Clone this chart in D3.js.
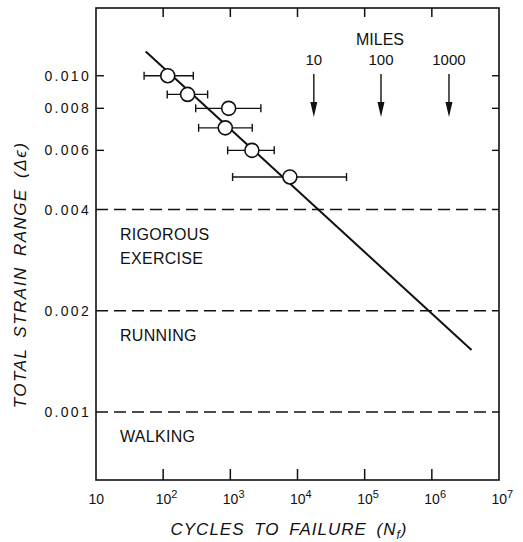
<!DOCTYPE html>
<html>
<head>
<meta charset="utf-8">
<script src="https://cdn.jsdelivr.net/npm/d3@7"></script>
<style>
  body { margin: 0; background: #fff; }
  svg text { font-family: "Liberation Sans", Arial, sans-serif; fill: #111; }
</style>
</head>
<body>
<svg id="chart" width="523" height="542"></svg>
<script>
// measured points (strain range vs cycles to failure, with scatter band)
const strain = [0.010, 0.0088, 0.008, 0.007, 0.006, 0.005]
const cycles = [117, 231, 944, 841, 2094, 7700]
const cyclesLow = [52, 115, 305, 337, 912, 1080]
const cyclesHigh = [281, 459, 2851, 2118, 4500, 53700]

// fitted line end points
const fitCycles = [55, 3.9e6]
const fitStrain = [0.0118, 0.00153]

// activity levels
const levels = [0.004, 0.002, 0.001]
const levelNames = [["RIGOROUS", "EXERCISE"], ["RUNNING"], ["WALKING"]]

// miles markers
const miles = ["10", "100", "1000"]
const milesCycles = [1.75e4, 1.75e5, 1.8e6]

const yTicks = [0.010, 0.008, 0.006, 0.004, 0.002, 0.001]
const yTickLabels = ["0.010", "0.008", "0.006", "0.004", "0.002", "0.001"]
const xTicks = [10, 1e2, 1e3, 1e4, 1e5, 1e6, 1e7]

const plotLeft = 96, plotRight = 499, plotTop = 8, plotBottom = 480

const x = d3.scaleLog().domain([10, 1e7]).range([plotLeft, plotRight])
const y = d3.scaleLog().domain([0.000628, 0.0159]).range([plotBottom, plotTop])

const svg = d3.select("#chart")

// frame
svg.append("rect")
    .attr("x", plotLeft).attr("y", plotTop)
    .attr("width", plotRight - plotLeft).attr("height", plotBottom - plotTop)
    .attr("fill", "none").attr("stroke", "#111").attr("stroke-width", 1.6)

// x ticks (inside, top and bottom)
const innerX = xTicks.slice(1, -1)
svg.selectAll(".xtb").data(innerX).join("line")
    .attr("x1", d => x(d)).attr("x2", d => x(d))
    .attr("y1", plotBottom).attr("y2", plotBottom - 11)
    .attr("stroke", "#111").attr("stroke-width", 1.5)
svg.selectAll(".xtt").data(innerX).join("line")
    .attr("x1", d => x(d)).attr("x2", d => x(d))
    .attr("y1", plotTop).attr("y2", plotTop + 9)
    .attr("stroke", "#111").attr("stroke-width", 1.5)

// x tick labels 10, 10^2 ...
const xl = svg.selectAll(".xl").data(xTicks).join("text")
    .attr("x", d => x(d) - 7.5)
    .attr("y", 504)
    .attr("font-size", 14)
xl.append("tspan").text("10")
xl.append("tspan")
    .attr("dy", -6).attr("font-size", 11)
    .text(d => { const p = Math.round(Math.log10(d)); return p > 1 ? p : "" })

// y ticks (inside, left and right) for the upper values
const tickOnly = yTicks.slice(0, 3)
svg.selectAll(".ytl").data(tickOnly).join("line")
    .attr("x1", plotLeft).attr("x2", plotLeft + 8)
    .attr("y1", d => y(d)).attr("y2", d => y(d))
    .attr("stroke", "#111").attr("stroke-width", 1.4)
svg.selectAll(".ytr").data(tickOnly).join("line")
    .attr("x1", plotRight - 7).attr("x2", plotRight)
    .attr("y1", d => y(d)).attr("y2", d => y(d))
    .attr("stroke", "#111").attr("stroke-width", 1.4)

svg.selectAll(".yl").data(yTicks).join("text")
    .attr("x", 91)
    .attr("y", d => y(d) + 5)
    .attr("text-anchor", "end")
    .attr("font-size", 14)
    .attr("letter-spacing", 2.3)
    .text((d, i) => yTickLabels[i])

// dashed activity levels
svg.selectAll(".lvl").data(levels).join("line")
    .attr("x1", plotLeft).attr("x2", plotRight)
    .attr("y1", d => y(d)).attr("y2", d => y(d))
    .attr("stroke", "#111").attr("stroke-width", 1.6)
    .attr("stroke-dasharray", "12,6")

levels.forEach((lv, i) => {
    levelNames[i].forEach((name, j) => {
        svg.append("text")
            .attr("x", 120)
            .attr("y", y(lv) + 30 + j * 24)
            .attr("font-size", 16)
            .attr("letter-spacing", 0.3)
            .text(name)
    })
})

// fitted line
svg.append("line")
    .attr("x1", x(fitCycles[0])).attr("y1", y(fitStrain[0]))
    .attr("x2", x(fitCycles[1])).attr("y2", y(fitStrain[1]))
    .attr("stroke", "#111").attr("stroke-width", 2)

// error bars
const pts = strain.map((s, i) => ({s: s, n: cycles[i], lo: cyclesLow[i], hi: cyclesHigh[i]}))
svg.selectAll(".eb").data(pts).join("line")
    .attr("x1", d => x(d.lo)).attr("x2", d => x(d.hi))
    .attr("y1", d => y(d.s)).attr("y2", d => y(d.s))
    .attr("stroke", "#111").attr("stroke-width", 1.4)
svg.selectAll(".ebl").data(pts).join("line")
    .attr("x1", d => x(d.lo)).attr("x2", d => x(d.lo))
    .attr("y1", d => y(d.s) - 4).attr("y2", d => y(d.s) + 4)
    .attr("stroke", "#111").attr("stroke-width", 1.4)
svg.selectAll(".ebh").data(pts).join("line")
    .attr("x1", d => x(d.hi)).attr("x2", d => x(d.hi))
    .attr("y1", d => y(d.s) - 4).attr("y2", d => y(d.s) + 4)
    .attr("stroke", "#111").attr("stroke-width", 1.4)

svg.selectAll(".pt").data(pts).join("circle")
    .attr("cx", d => x(d.n)).attr("cy", d => y(d.s))
    .attr("r", 7)
    .attr("fill", "#fff").attr("stroke", "#111").attr("stroke-width", 1.6)

// miles markers
svg.append("text")
    .attr("x", 380).attr("y", 45)
    .attr("text-anchor", "middle")
    .attr("font-size", 16)
    .text("MILES")
svg.selectAll(".ml").data(milesCycles).join("text")
    .attr("x", d => x(d)).attr("y", 65)
    .attr("text-anchor", "middle")
    .attr("font-size", 15)
    .text((d, i) => miles[i])
svg.selectAll(".ma").data(milesCycles).join("line")
    .attr("x1", d => x(d)).attr("x2", d => x(d))
    .attr("y1", 74).attr("y2", 105)
    .attr("stroke", "#111").attr("stroke-width", 1.4)
svg.selectAll(".mh").data(milesCycles).join("path")
    .attr("d", d => `M${x(d) - 3.5},102 L${x(d) + 3.5},102 L${x(d)},117 Z`)
    .attr("fill", "#111")

// axis titles
const xt = svg.append("text")
    .attr("x", 289).attr("y", 535)
    .attr("text-anchor", "middle")
    .attr("font-size", 17)
    .attr("font-style", "italic")
    .attr("letter-spacing", 1)
    .attr("word-spacing", 4)
xt.append("tspan").text("CYCLES TO FAILURE (N")
xt.append("tspan").attr("dy", 4).attr("font-size", 12).text("f")
xt.append("tspan").attr("dy", -4).text(")")

svg.append("text")
    .attr("transform", "translate(26,275) rotate(-90)")
    .attr("text-anchor", "middle")
    .attr("font-size", 17)
    .attr("font-style", "italic")
    .attr("letter-spacing", 1.5)
    .attr("word-spacing", 4)
    .text("TOTAL STRAIN RANGE (Δϵ)")
</script>
</body>
</html>
